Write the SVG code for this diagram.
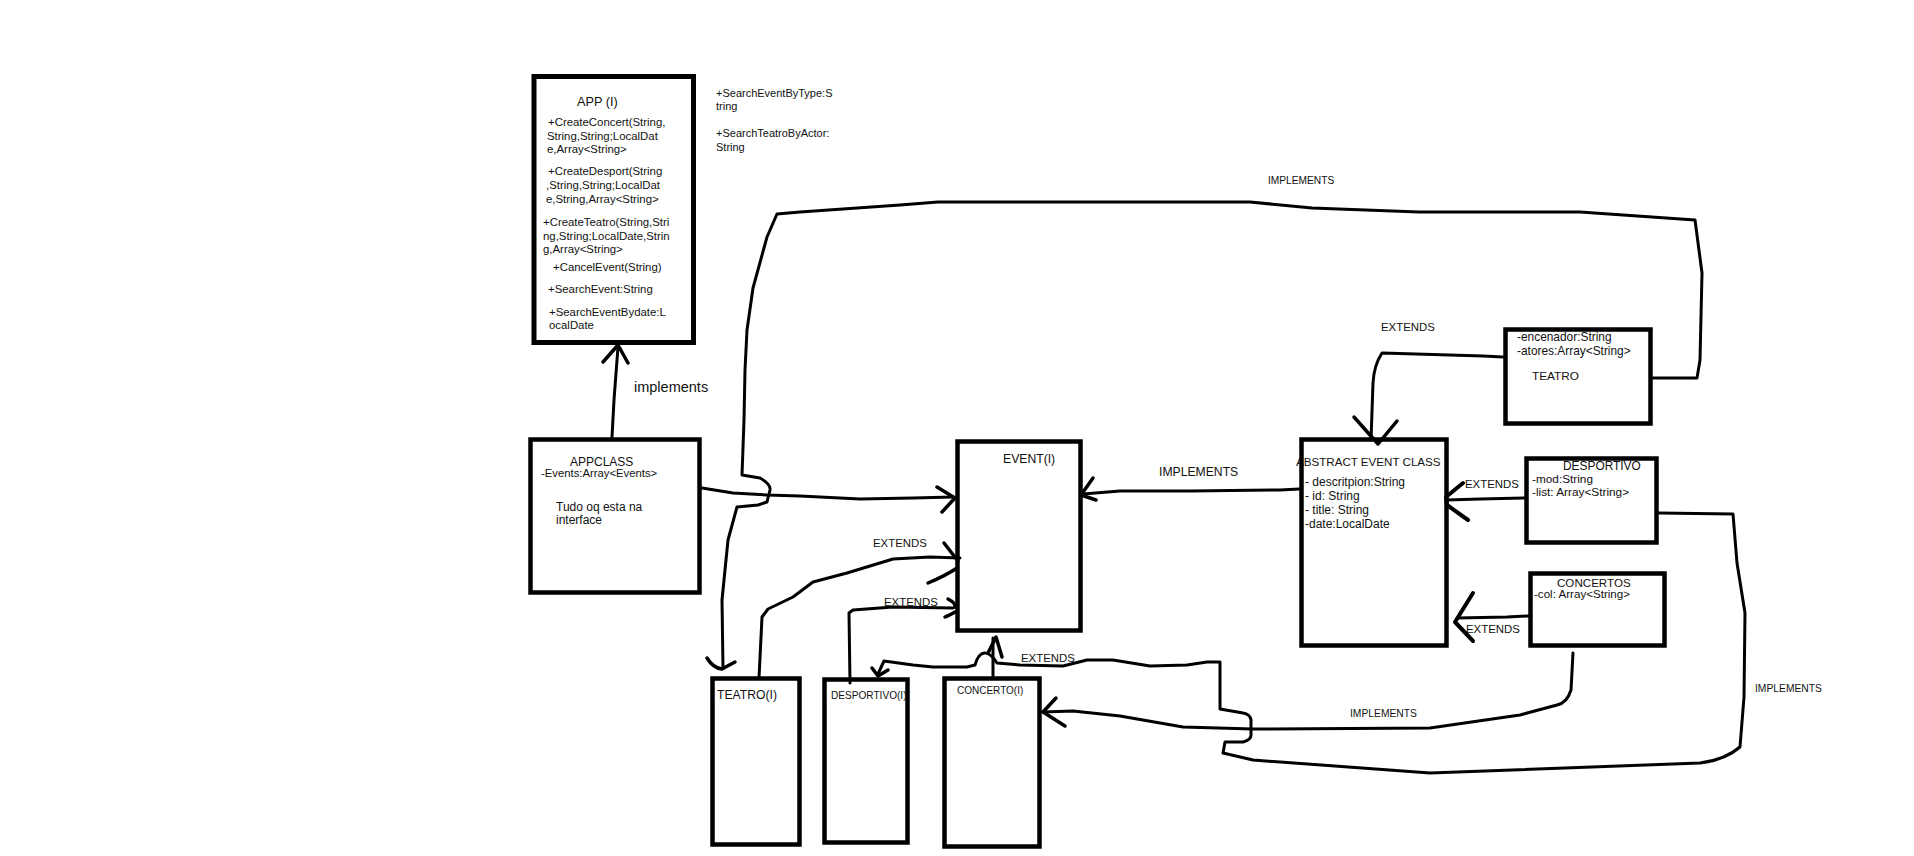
<svg xmlns="http://www.w3.org/2000/svg" width="1914" height="856" viewBox="0 0 1914 856">
<style>
text{font-family:"Liberation Sans",Arial,sans-serif;fill:#111;}
.box{fill:none;stroke:#000;stroke-width:4.5;}
.c{fill:none;stroke:#000;stroke-width:3;stroke-linejoin:round;stroke-linecap:round;}
.a{fill:none;stroke:#000;stroke-width:3.5;stroke-linejoin:round;stroke-linecap:round;}
.s11{font-size:11.4px;}
.s12{font-size:12px;}
.lbl{font-size:11.4px;}
.sm{font-size:10.3px;}
</style>
<rect width="1914" height="856" fill="#fff"/>

<g id="app">
<rect class="box" x="534" y="76.5" width="159.5" height="266" style="stroke-width:5"/>
<text x="577" y="106" style="font-size:12.7px">APP (I)</text>
<text class="s11" x="548" y="126">+CreateConcert(String,</text>
<text class="s11" x="547" y="140">String,String;LocalDat</text>
<text class="s11" x="547" y="153">e,Array&lt;String&gt;</text>
<text class="s11" x="548" y="175">+CreateDesport(String</text>
<text class="s11" x="546" y="189">,String,String;LocalDat</text>
<text class="s11" x="546" y="203">e,String,Array&lt;String&gt;</text>
<text class="s11" x="543" y="226">+CreateTeatro(String,Stri</text>
<text class="s11" x="543" y="240">ng,String;LocalDate,Strin</text>
<text class="s11" x="543" y="253">g,Array&lt;String&gt;</text>
<text class="s11" x="553" y="271">+CancelEvent(String)</text>
<text class="s11" x="548" y="293">+SearchEvent:String</text>
<text class="s11" x="549" y="316">+SearchEventBydate:L</text>
<text class="s11" x="549" y="329">ocalDate</text>
</g>

<g id="app-extra">
<text x="716" y="97" style="font-size:11px">+SearchEventByType:S</text>
<text x="716" y="110" style="font-size:11px">tring</text>
<text x="716" y="137" style="font-size:11px">+SearchTeatroByActor:</text>
<text x="716" y="151" style="font-size:11px">String</text>
</g>

<g id="appclass">
<rect class="box" x="530.5" y="439.5" width="169" height="153"/>
<text x="570" y="465.5" style="font-size:12px">APPCLASS</text>
<text x="541" y="477" style="font-size:11.3px">-Events:Array&lt;Events&gt;</text>
<text x="556" y="511" class="s12">Tudo oq esta na</text>
<text x="556" y="524" class="s12">interface</text>
</g>

<g id="event">
<rect class="box" x="957.5" y="441.5" width="123" height="189"/>
<text x="1003" y="463" style="font-size:12.2px">EVENT(I)</text>
</g>

<g id="teatro-i">
<rect class="box" x="712.5" y="678.5" width="87" height="166"/>
<text x="717" y="699" style="font-size:12.2px">TEATRO(I)</text>
</g>

<g id="desportivo-i">
<rect class="box" x="824.5" y="679.5" width="83" height="163"/>
<text x="831" y="699" style="font-size:10.1px">DESPORTIVO(I)</text>
</g>

<g id="concerto-i">
<rect class="box" x="944.5" y="678.5" width="95" height="168"/>
<text x="957" y="694" style="font-size:10px">CONCERTO(I)</text>
</g>

<g id="abstract">
<text x="1296" y="466" style="font-size:11.6px">ABSTRACT EVENT CLASS</text>
<rect class="box" x="1301.5" y="439.5" width="145" height="206"/>
<text x="1305" y="486" class="s12">- descritpion:String</text>
<text x="1305" y="500" class="s12">- id: String</text>
<text x="1305" y="514" class="s12">- title: String</text>
<text x="1305" y="528" class="s12">-date:LocalDate</text>
</g>

<g id="teatro">
<rect class="box" x="1505.5" y="329.5" width="145" height="94"/>
<text x="1517" y="341" style="font-size:11.9px">-encenador:String</text>
<text x="1517" y="355" style="font-size:11.9px">-atores:Array&lt;String&gt;</text>
<text x="1532" y="380" style="font-size:11.8px">TEATRO</text>
</g>

<g id="desportivo">
<rect class="box" x="1526.5" y="458.5" width="130" height="84"/>
<text x="1563" y="470" style="font-size:11.9px">DESPORTIVO</text>
<text x="1532" y="483" style="font-size:11.8px">-mod:String</text>
<text x="1532" y="496" style="font-size:11.8px">-list: Array&lt;String&gt;</text>
</g>

<g id="concertos">
<rect class="box" x="1530.5" y="573.5" width="134" height="72"/>
<text x="1557" y="587" style="font-size:11.6px">CONCERTOS</text>
<text x="1534" y="598" style="font-size:11.6px">-col: Array&lt;String&gt;</text>
</g>

<g id="connectors">
<!-- APPCLASS -> APP -->
<path class="c" d="M612,437 L614,400 L618,347"/>
<path class="a" d="M603,362 L618,345 L628,363"/>
<!-- APPCLASS -> EVENT -->
<path class="c" d="M702,488 L733,493 L767,495 L800,496 L860,499 L913,498 L953,497"/>
<path class="a" d="M937,487 L955,498 L942,512"/>
<!-- TEATRO -> TEATRO(I) big loop -->
<path class="c" d="M1653,378 L1697,378 L1700,360 L1702,273 L1695,220 L1580,212 L1500,212 L1419,212 L1312,208 L1250,202 L938,202 L900,205 L800,212 L777,214 L767,237 L753,288 L747,330 L745,370 L744,420 L742,475 L760,478 Q771,484 770,490 L767,502 L758,505 L737,507 L728,540 L722,600 L723,668"/>
<path class="a" d="M707,658 Q713,668 722,669 L735,662"/>
<!-- TEATRO -> ABSTRACT -->
<path class="c" d="M1503,357 L1483,356 L1382,353 Q1374,365 1373,383 L1371,440"/>
<path class="a" d="M1354,417 L1378,444 L1397,421"/>
<!-- ABSTRACT -> EVENT -->
<path class="c" d="M1299,489 L1280,490 L1190,491 L1120,491 L1083,494"/>
<path class="a" d="M1093,478 L1081,495 L1096,500"/>
<!-- DESPORTIVO -> ABSTRACT -->
<path class="c" d="M1524,498 L1480,499 L1446,500"/>
<path class="a" d="M1463,483 L1446,497 L1447,505 L1468,520" style="stroke-width:4"/>
<!-- CONCERTOS -> ABSTRACT -->
<path class="c" d="M1528,616 L1507,617 L1457,618"/>
<path class="a" d="M1473,593 L1455,622 L1473,641" style="stroke-width:4"/>
<!-- TEATRO(I) -> EVENT -->
<path class="c" d="M759,678 L762,617 L768,609 L793,597 L813,582 L847,573 L893,559 L930,557 L960,558"/>
<path class="a" d="M944,543 L958,561"/>
<path class="a" d="M928,583 Q945,576 957,568"/>
<!-- DESPORTIVO(I) -> EVENT -->
<path class="c" d="M850,683 L849,613 L853,610 L893,607 L953,608"/>
<path class="a" d="M948,599 Q956,603 955,607"/>
<path class="a" d="M945,617 Q952,614 955,612"/>
<!-- CONCERTO(I) -> EVENT -->
<path class="c" d="M993,676 L993,638"/>
<path class="a" d="M988,653 L996,637 L1002,657"/>
<!-- DESPORTIVO -> DESPORTIVO(I) -->
<path class="c" d="M1659,513 L1733,514 L1737,563 L1745,613 L1744,697 L1740,747 Q1725,760 1700,763 L1430,773 L1253,760 L1223,753 L1225,742 L1243,742 Q1251,740 1251,735 L1251,720 Q1250,714 1243,713 L1220,709 L1220,662 L1207,662 L1187,665 L1150,666 L1113,660 L1087,660 L1063,666 L1020,665 L997,663 Q990,652 984,653 Q978,654 975,665 L967,667 L933,667 L913,665 L884,661 L878,674"/>
<path class="a" d="M872,668 L878,676 L888,670"/>
<!-- CONCERTOS -> CONCERTO(I) -->
<path class="c" d="M1573,653 L1571,690 Q1567,703 1557,705 L1520,715 L1430,728 L1253,729 L1183,727 L1120,716 L1073,711 L1043,712"/>
<path class="a" d="M1056,698 L1043,712 L1065,726"/>
</g>

<g id="labels">
<text x="634" y="392" style="font-size:14.5px">implements</text>
<text x="1159" y="476" style="font-size:12.2px">IMPLEMENTS</text>
<text x="1268" y="184" style="font-size:10.2px">IMPLEMENTS</text>
<text class="lbl" x="1381" y="331">EXTENDS</text>
<text class="lbl" x="1465" y="488">EXTENDS</text>
<text class="lbl" x="1466" y="633">EXTENDS</text>
<text class="lbl" x="873" y="547">EXTENDS</text>
<text class="lbl" x="884" y="606">EXTENDS</text>
<text class="lbl" x="1021" y="662">EXTENDS</text>
<text class="sm" x="1350" y="717">IMPLEMENTS</text>
<text class="sm" x="1755" y="692">IMPLEMENTS</text>
</g>
</svg>
